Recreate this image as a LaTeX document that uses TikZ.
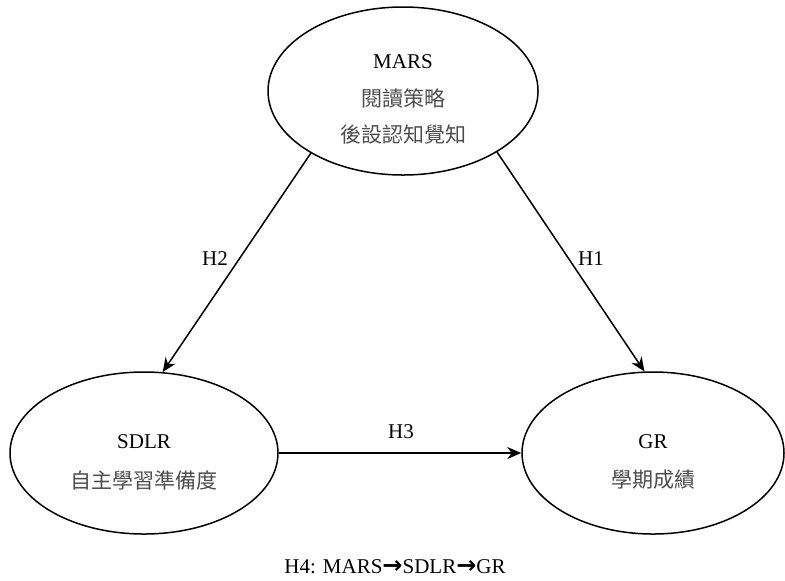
\documentclass[tikz,border=0pt]{standalone}
\usepackage{fontspec}
\setmainfont{Liberation Serif}
\newfontfamily\cjk{Noto Sans CJK TC}
\newfontfamily\arrowfont{DejaVu Sans}
\usetikzlibrary{arrows.meta,shapes.geometric}
\begin{document}
\begin{tikzpicture}[x=0.5pt,y=-0.5pt,
  every node/.style={font=\fontsize{10.5pt}{12pt}\selectfont},
  oval/.style={draw,ellipse,line width=0.75pt,inner sep=0pt},
  zh/.style={font=\fontsize{10.5pt}{12pt}\selectfont\cjk,text=black!70},
  link/.style={line width=0.75pt,-{Stealth[length=7pt,width=6pt,inset=2.2pt]}},
  hyp/.style={inner sep=1pt}]
\useasboundingbox (0,0) rectangle (785,580);
\node[oval,minimum width=135pt,minimum height=84pt] (mars) at (403,91) {};
\node[oval,minimum width=134pt,minimum height=81pt] (sdlr) at (144,453) {};
\node[oval,minimum width=131pt,minimum height=81pt] (gr) at (653,453) {};
\node (t1) at (403,62) {MARS};
\node[zh] (t2) at (403,98) {閱讀策略};
\node[zh] (t3) at (403,135) {後設認知覺知};
\node (t4) at (144,442) {SDLR};
\node[zh] (t5) at (144,480) {自主學習準備度};
\node (t6) at (653,442) {GR};
\node[zh] (t7) at (653,480) {學期成績};
\draw[link] (mars.214.5) -- (sdlr.77.3);
\draw[link] (mars.327.3) -- (gr.96.8);
\draw[link] (sdlr.east) -- (gr.west);
\node[hyp] (h2) at (215,259) {H2};
\node[hyp] (h1) at (591,259) {H1};
\node[hyp] (h3) at (401,432) {H3};
\node (h4) at (395,567) {H4: MARS{\arrowfont\bfseries\fontsize{12pt}{12pt}\selectfont →}SDLR{\arrowfont\bfseries\fontsize{12pt}{12pt}\selectfont →}GR};
\end{tikzpicture}
\end{document}
